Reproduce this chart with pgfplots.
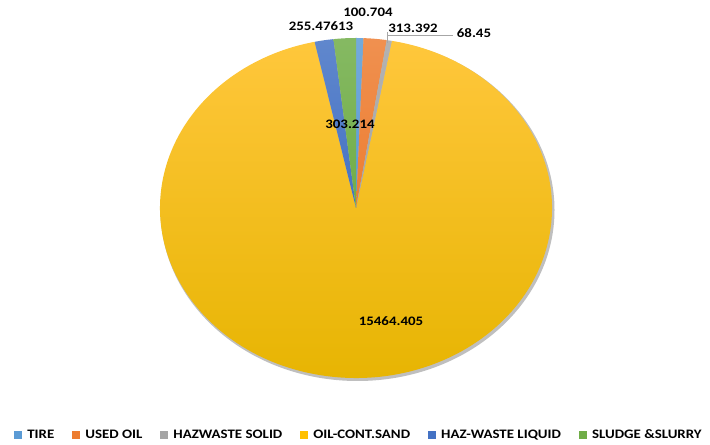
\documentclass[border=0pt]{standalone}
\usepackage{pgfplots}
\pgfplotsset{compat=1.18}
\usepackage{pgfplotstable}
\usepackage{fontspec}
\setmainfont{Carlito}[FakeStretch=1.15]

\definecolor{cTire}{HTML}{5B9BD5}
\definecolor{cUsed}{HTML}{ED7D31}
\definecolor{cSolid}{HTML}{A5A5A5}
\definecolor{cSand}{HTML}{FFC000}
\definecolor{cLiq}{HTML}{4472C4}
\definecolor{cSludge}{HTML}{70AD47}
\definecolor{sandTop}{RGB}{255,199,60}
\definecolor{sandBot}{RGB}{230,180,0}

\pgfplotstableread{
name value
TIRE 100.704
USEDOIL 313.392
HAZWASTESOLID 68.45
OILCONTSAND 15464.405
HAZWASTELIQUID 255.47613
SLUDGESLURRY 303.214
}\piedata

\pgfplotsset{pieleg/.style={legend image code/.code={\fill[##1] (0bp,-4bp) rectangle (8bp,4bp);}}}

\begin{document}
\begin{tikzpicture}
\pgfplotstablegetelem{0}{value}\of\piedata \let\vA\pgfplotsretval
\pgfplotstablegetelem{1}{value}\of\piedata \let\vB\pgfplotsretval
\pgfplotstablegetelem{2}{value}\of\piedata \let\vC\pgfplotsretval
\pgfplotstablegetelem{3}{value}\of\piedata \let\vD\pgfplotsretval
\pgfplotstablegetelem{4}{value}\of\piedata \let\vE\pgfplotsretval
\pgfplotstablegetelem{5}{value}\of\piedata \let\vF\pgfplotsretval
\edef\tot{\fpeval{\vA+\vB+\vC+\vD+\vE+\vF}}
\edef\aA{\fpeval{90-360*\vA/\tot}}
\edef\aB{\fpeval{\aA-360*\vB/\tot}}
\edef\aC{\fpeval{\aB-360*\vC/\tot}}
\edef\aD{\fpeval{\aC-360*\vD/\tot}}
\edef\aE{\fpeval{\aD-360*\vE/\tot}}
\edef\aF{\fpeval{\aE-360*\vF/\tot}}
\def\cx{356}\def\cy{235}
\begin{axis}[
  scale only axis, width=710bp, height=443bp,
  xmin=0, xmax=710, ymin=0, ymax=443,
  hide axis, clip=false,
  legend columns=6,
  legend style={at={(axis cs:359,8)}, anchor=center, draw=none, fill=none,
    font=\bfseries\fontsize{13}{15}\selectfont,
    /tikz/every even column/.append style={column sep=16bp},
    /tikz/every odd column/.append style={column sep=3bp}},
]
\addlegendimage{pieleg, fill=cTire, draw=none}
\addlegendentry{TIRE}
\addlegendimage{pieleg, fill=cUsed, draw=none}
\addlegendentry{USED OIL}
\addlegendimage{pieleg, fill=cSolid, draw=none}
\addlegendentry{HAZWASTE SOLID}
\addlegendimage{pieleg, fill=cSand, draw=none}
\addlegendentry{OIL-CONT.SAND}
\addlegendimage{pieleg, fill=cLiq, draw=none}
\addlegendentry{HAZ-WASTE LIQUID}
\addlegendimage{pieleg, fill=cSludge, draw=none}
\addlegendentry{SLUDGE \&SLURRY}

% full-size bounding box
\path (rel axis cs:0,0) rectangle (rel axis cs:1,1);

% shadow / outline
\fill[black!25] (axis cs:\cx+1.5,\cy-2) ellipse [x radius=197bp, y radius=171bp];
\shade[top color=sandTop, middle color=cSand, bottom color=sandBot]
  (axis cs:\cx,\cy) -- ++(\aC:196bp and 170bp) arc[start angle=\aC, end angle=\aD, x radius=196bp, y radius=170bp] -- cycle;
\shade[top color=cTire!85!white, bottom color=cTire]
  (axis cs:\cx,\cy) -- ++(90:196bp and 170bp) arc[start angle=90, end angle=\aA, x radius=196bp, y radius=170bp] -- cycle;
\shade[top color=cUsed!85!white, bottom color=cUsed]
  (axis cs:\cx,\cy) -- ++(\aA:196bp and 170bp) arc[start angle=\aA, end angle=\aB, x radius=196bp, y radius=170bp] -- cycle;
\shade[top color=cSolid!85!white, bottom color=cSolid]
  (axis cs:\cx,\cy) -- ++(\aB:196bp and 170bp) arc[start angle=\aB, end angle=\aC, x radius=196bp, y radius=170bp] -- cycle;
\shade[top color=cLiq!85!white, bottom color=cLiq]
  (axis cs:\cx,\cy) -- ++(\aD:196bp and 170bp) arc[start angle=\aD, end angle=\aE, x radius=196bp, y radius=170bp] -- cycle;
\shade[top color=cSludge!85!white, bottom color=cSludge]
  (axis cs:\cx,\cy) -- ++(\aE:196bp and 170bp) arc[start angle=\aE, end angle=\aF, x radius=196bp, y radius=170bp] -- cycle;

% leader lines
\draw[black!35, line width=0.7bp] (axis cs:387,400) -- (axis cs:387,411);
\draw[black!35, line width=0.7bp] (axis cs:387,408) -- (axis cs:453,408);

% data labels
\begin{scope}[every node/.style={font=\bfseries\fontsize{13}{15}\selectfont, inner sep=1bp}]
\node at (axis cs:368,431) {100.704};
\node at (axis cs:321,417) {255.47613};
\node at (axis cs:413,415) {313.392};
\node at (axis cs:474,410) {68.45};
\node at (axis cs:350,319) {303.214};
\node at (axis cs:391,122) {15464.405};
\end{scope}
\end{axis}
\end{tikzpicture}
\end{document}
